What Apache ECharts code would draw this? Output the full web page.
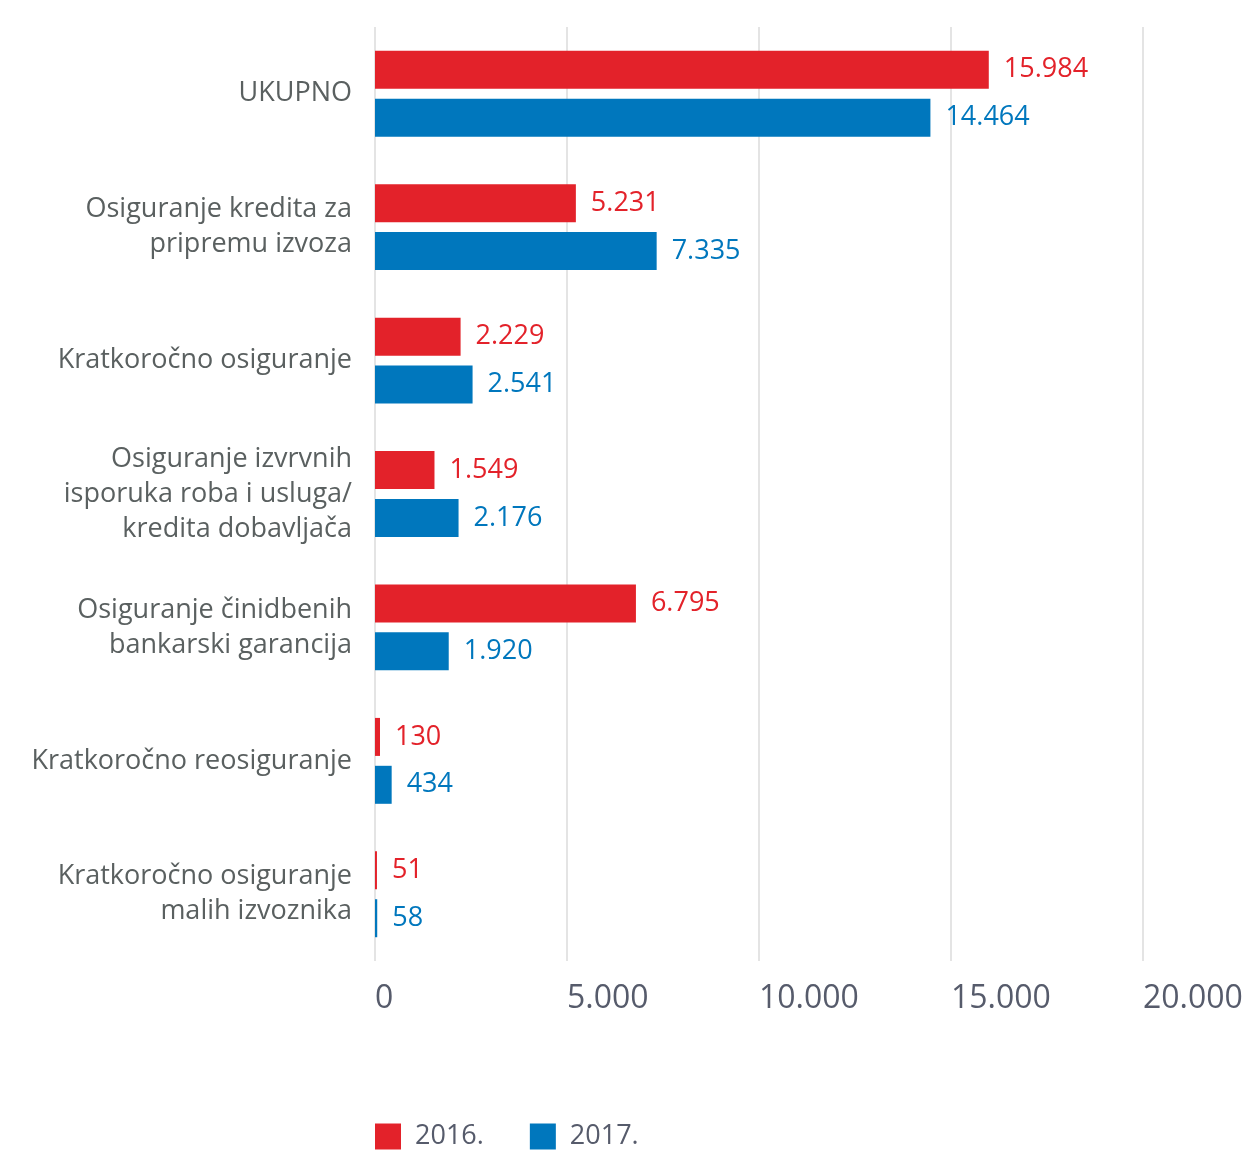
<!DOCTYPE html>
<html>
<head>
<meta charset="utf-8">
<script src="https://cdn.jsdelivr.net/npm/echarts@6/dist/echarts.min.js"></script>
<style>
  html, body { margin: 0; padding: 0; background: #ffffff; }
  #chart { width: 1257px; height: 1151px; }
</style>
</head>
<body>
<div id="chart"></div>
<script>
const categories = [
  "UKUPNO",
  "Osiguranje kredita za\npripremu izvoza",
  "Kratkoročno osiguranje",
  "Osiguranje izvrvnih\nisporuka roba i usluga/\nkredita dobavljača",
  "Osiguranje činidbenih\nbankarski garancija",
  "Kratkoročno reosiguranje",
  "Kratkoročno osiguranje\nmalih izvoznika"
];
const values2016 = [15984, 5231, 2229, 1549, 6795, 130, 51];
const values2017 = [14464, 7335, 2541, 2176, 1920, 434, 58];
const seriesNames = ["2016.", "2017."];

const RED = "#e3222a";
const BLUE = "#0077bd";
const FONT = "'Open Sans', Lato, sans-serif";

// 15984 -> "15.984"
const fmt = (v) => String(v).replace(/\B(?=(\d{3})+(?!\d))/g, ".");

const chart = echarts.init(document.getElementById("chart"), null, { renderer: "canvas" });

function barSeries(name, data, color) {
  return {
    name: name,
    type: "bar",
    data: data,
    barWidth: 38,
    barGap: "26%",
    itemStyle: { color: color },
    label: {
      show: true,
      position: "right",
      distance: 15,
      color: color,
      fontFamily: FONT,
      fontSize: 27,
      formatter: (p) => fmt(p.value)
    }
  };
}

chart.setOption({
  animation: false,
  textStyle: { fontFamily: FONT },
  grid: { left: 375, right: 114, top: 27, bottom: 190, containLabel: false },
  legend: {
    data: seriesNames,
    left: 375,
    top: 1123,
    padding: 0,
    icon: "rect",
    itemWidth: 26,
    itemHeight: 26,
    itemGap: 46,
    textStyle: {
      fontFamily: FONT,
      fontSize: 27,
      color: "#565b6b",
      padding: [0, 0, 0, 9]
    }
  },
  xAxis: {
    type: "value",
    min: 0,
    max: 20000,
    interval: 5000,
    axisLine: { show: false },
    axisTick: { show: false },
    splitLine: { show: true, lineStyle: { color: "#e4e4e4", width: 2 } },
    axisLabel: {
      color: "#565b6b",
      fontSize: 32,
      fontFamily: FONT,
      align: "left",
      margin: 22,
      formatter: (v) => fmt(v)
    }
  },
  yAxis: {
    type: "category",
    inverse: true,
    data: categories,
    axisLine: { show: false },
    axisTick: { show: false },
    axisLabel: {
      color: "#5a6060",
      fontSize: 27,
      fontFamily: FONT,
      lineHeight: 35,
      align: "right",
      margin: 23
    }
  },
  series: [
    barSeries(seriesNames[0], values2016, RED),
    barSeries(seriesNames[1], values2017, BLUE)
  ]
});
</script>
</body>
</html>
